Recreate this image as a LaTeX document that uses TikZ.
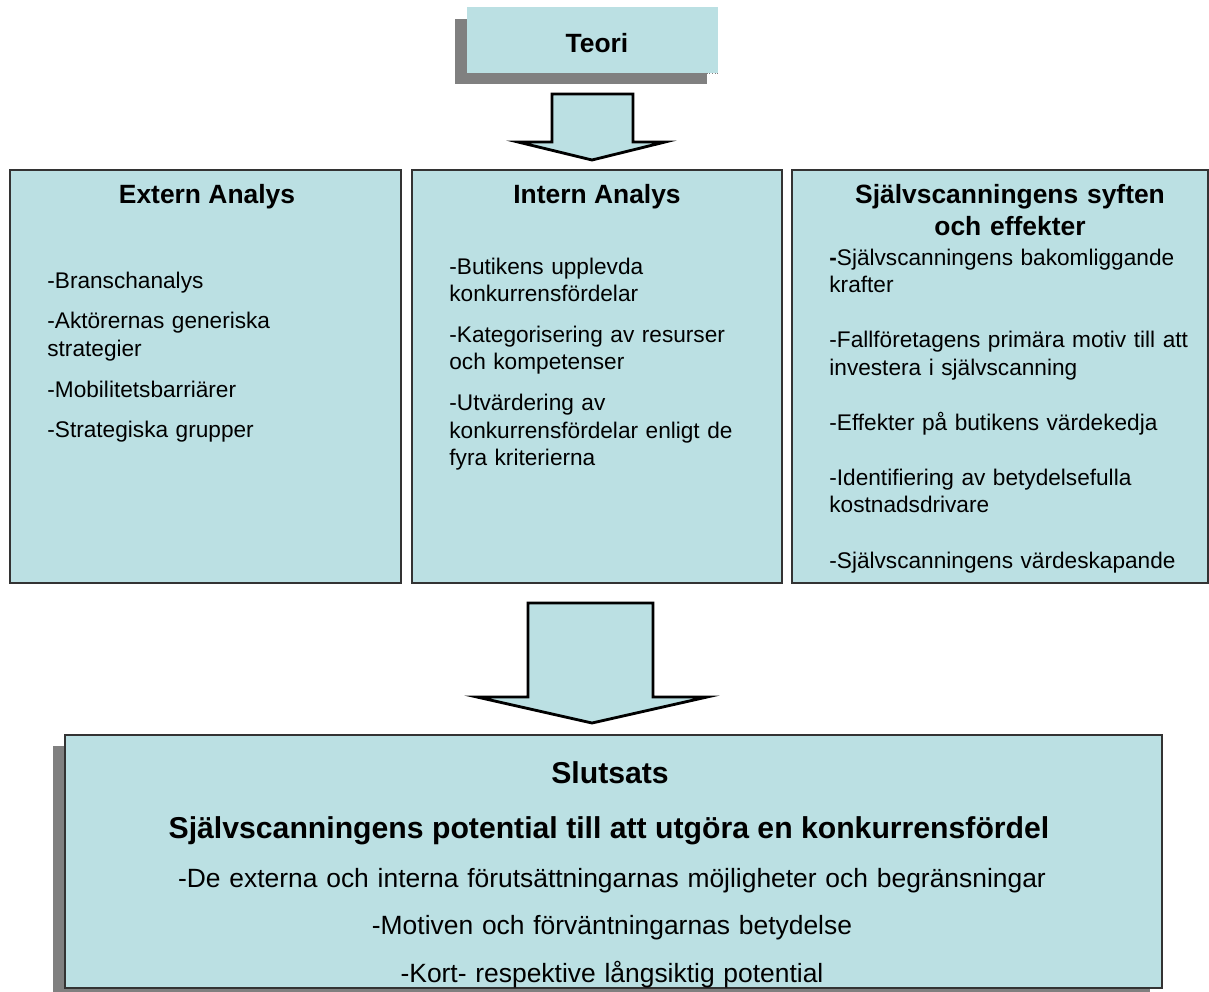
\documentclass[tikz,border=0pt]{standalone}
\usepackage{fontspec}
\setmainfont{Liberation Sans}
\usepackage{xcolor}
\usetikzlibrary{fit}

\definecolor{boxblue}{RGB}{187,224,227}
\definecolor{shadowgray}{RGB}{128,128,128}
\definecolor{edgegray}{RGB}{51,51,51}

\tikzset{
    box/.style={draw=edgegray, line width=0.6pt, fill=boxblue, inner sep=0pt},
    heading/.style={anchor=base, inner sep=0pt, font=\fontsize{14}{17}\selectfont\bfseries},
    itemlist/.style={anchor=base west, inner sep=0pt, text width=200pt, align=left,
        font=\fontsize{12}{14.6}\selectfont},
    blockarrow/.style={draw=black, line width=1.5pt, fill=boxblue},
}

\begin{document}
\begin{tikzpicture}[x=0.53pt, y=-0.53pt]

        \useasboundingbox (0,0) rectangle (1209,991);

        % teori

        \fill[shadowgray] (455,19) rectangle (707,84); % shadow
        \node[box, draw=none, fit={(467,7) (718,73)}] (teori) {};
        \draw[shadowgray, densely dotted, thin] (teori.south west) -- (teori.south east);
        \node[heading] (teorihead) at (597,52) {Teori};

        \filldraw[blockarrow] (552,94) -- (633,94) -- (633,142) -- (665,142)
            -- (592,160) -- (518,142) -- (552,142) -- cycle;

        % analys

        \node[box, fit={(10,170) (401,583)}] (extern) {};
        \node[box, fit={(412,170) (782,583)}] (intern) {};
        \node[box, fit={(792,170) (1208,583)}] (syften) {};

        \node[heading] (externhead) at (207,203) {Extern Analys};
        \node[heading] (internhead) at (597,203) {Intern Analys};
        \node[heading, text width=220pt, align=center] (syftenhead) at (1010,203)
            {Självscanningens syften\\och effekter};

        \node[itemlist] (externlist) at (47,288) {-Branschanalys\\[7pt]
            -Aktörernas generiska\\strategier\\[7pt]
            -Mobilitetsbarriärer\\[7pt]
            -Strategiska grupper};

        \node[itemlist] (internlist) at (449,274) {-Butikens upplevda\\konkurrensfördelar\\[7pt]
            -Kategorisering av resurser\\och kompetenser\\[7pt]
            -Utvärdering av\\konkurrensfördelar enligt de\\fyra kriterierna};

        \node[itemlist] (syftenlist) at (829,265) {{\bfseries -}Självscanningens bakomliggande\\krafter\\[14.6pt]
            -Fallföretagens primära motiv till att\\investera i självscanning\\[14.6pt]
            -Effekter på butikens värdekedja\\[14.6pt]
            -Identifiering av betydelsefulla\\kostnadsdrivare\\[14.6pt]
            -Självscanningens värdeskapande};

        \filldraw[blockarrow] (528,603) -- (653,603) -- (653,697) -- (707,697)
            -- (592,723) -- (477,697) -- (528,697) -- cycle;

        % slutsats

        \fill[shadowgray] (53,746) rectangle (1150,1000); % shadow
        \node[box, fit={(65,735) (1162,988)}] (slutsats) {};

        \node[heading, font=\fontsize{16}{19}\selectfont\bfseries] (slutsatshead) at (610,783) {Slutsats};
        \node[heading, font=\fontsize{16}{19}\selectfont\bfseries] (potential) at (609,838)
            {Självscanningens potential till att utgöra en konkurrensfördel};
        \node[anchor=base, inner sep=0pt, text width=560pt, align=center,
            font=\fontsize{14}{25.2}\selectfont] (slutsatslist) at (612,887)
            {-De externa och interna förutsättningarnas möjligheter och begränsningar\\
            -Motiven och förväntningarnas betydelse\\
            -Kort- respektive långsiktig potential};

    \end{tikzpicture}
\end{document}
